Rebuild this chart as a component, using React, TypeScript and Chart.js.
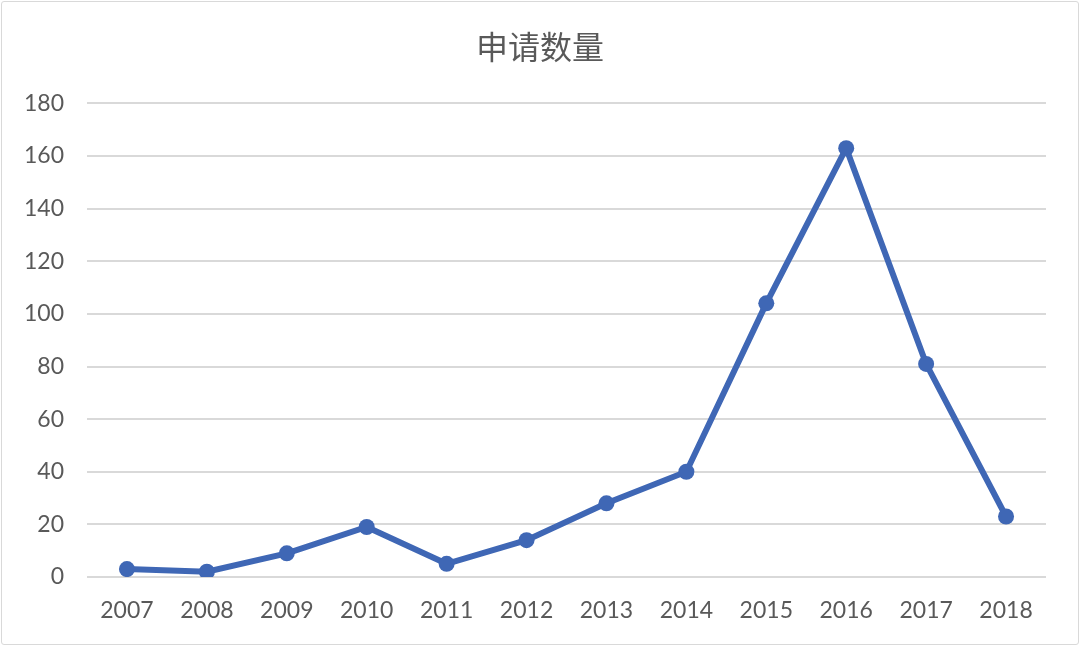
import React, { useEffect, useRef } from "react";
import { Chart, registerables } from "chart.js";

Chart.register(...registerables);

const years = ["2007", "2008", "2009", "2010", "2011", "2012", "2013", "2014", "2015", "2016", "2017", "2018"];
const counts = [3, 2, 9, 19, 5, 14, 28, 40, 104, 163, 81, 23];
const yMin = 0;
const yMax = 180;
const yStep = 20;
const chartTitle = "申请数量";

export default function App() {
  const ref = useRef<HTMLCanvasElement | null>(null);

  useEffect(() => {
    if (!ref.current) return;
    const chart = new Chart(ref.current, {
      type: "line",
      data: {
        labels: years,
        datasets: [
          {
            label: chartTitle,
            data: counts,
            borderColor: "#3F67B5",
            backgroundColor: "#3F67B5",
            borderWidth: 6,
            pointRadius: 8,
            pointBorderWidth: 0,
            pointBackgroundColor: "#3F67B5",
            tension: 0,
          },
        ],
      },
      options: {
        animation: false,
        responsive: false,
        maintainAspectRatio: false,
        layout: { padding: 0 },
        plugins: {
          legend: { display: false },
          tooltip: { enabled: false },
          title: {
            display: true,
            text: chartTitle,
            color: "#595959",
            font: { family: "'Noto Sans CJK SC', sans-serif", size: 32, weight: "normal", lineHeight: 1.2 },
            padding: { top: 28, bottom: 37 },
          },
        },
        scales: {
          x: {
            offset: true,
            grid: { display: false, drawTicks: false },
            border: { display: false },
            ticks: {
              color: "#595959",
              font: { family: "Lato, 'Open Sans', sans-serif", size: 23 },
              padding: 20,
              maxRotation: 0,
            },
            afterFit: (s: any) => {
              s.height = 68;
            },
          },
          y: {
            min: yMin,
            max: yMax,
            ticks: {
              stepSize: yStep,
              color: "#595959",
              font: { family: "Lato, 'Open Sans', sans-serif", size: 23 },
              padding: 23,
            },
            grid: { color: "#D9D9D9", lineWidth: 2, drawTicks: false },
            border: { display: false },
            afterFit: (s: any) => {
              s.width = 87;
            },
          },
          yRight: {
            type: "linear",
            position: "right",
            min: yMin,
            max: yMax,
            grid: { display: false, drawTicks: false },
            border: { display: false },
            ticks: { display: false },
            afterFit: (s: any) => {
              s.width = 34;
            },
          },
        },
      },
    });
    return () => chart.destroy();
  }, []);

  return (
    <div style={{ position: "fixed", left: 0, top: 0, width: 1080, height: 667, background: "#fff" }}>
      <div
        style={{
          position: "absolute",
          left: 1,
          top: 1,
          width: 1076,
          height: 642,
          border: "1px solid #D9D9D9",
          borderRadius: 3,
        }}
      />
      <canvas ref={ref} width={1080} height={645} style={{ position: "absolute", left: 0, top: 0, width: 1080, height: 645 }} />
    </div>
  );
}
